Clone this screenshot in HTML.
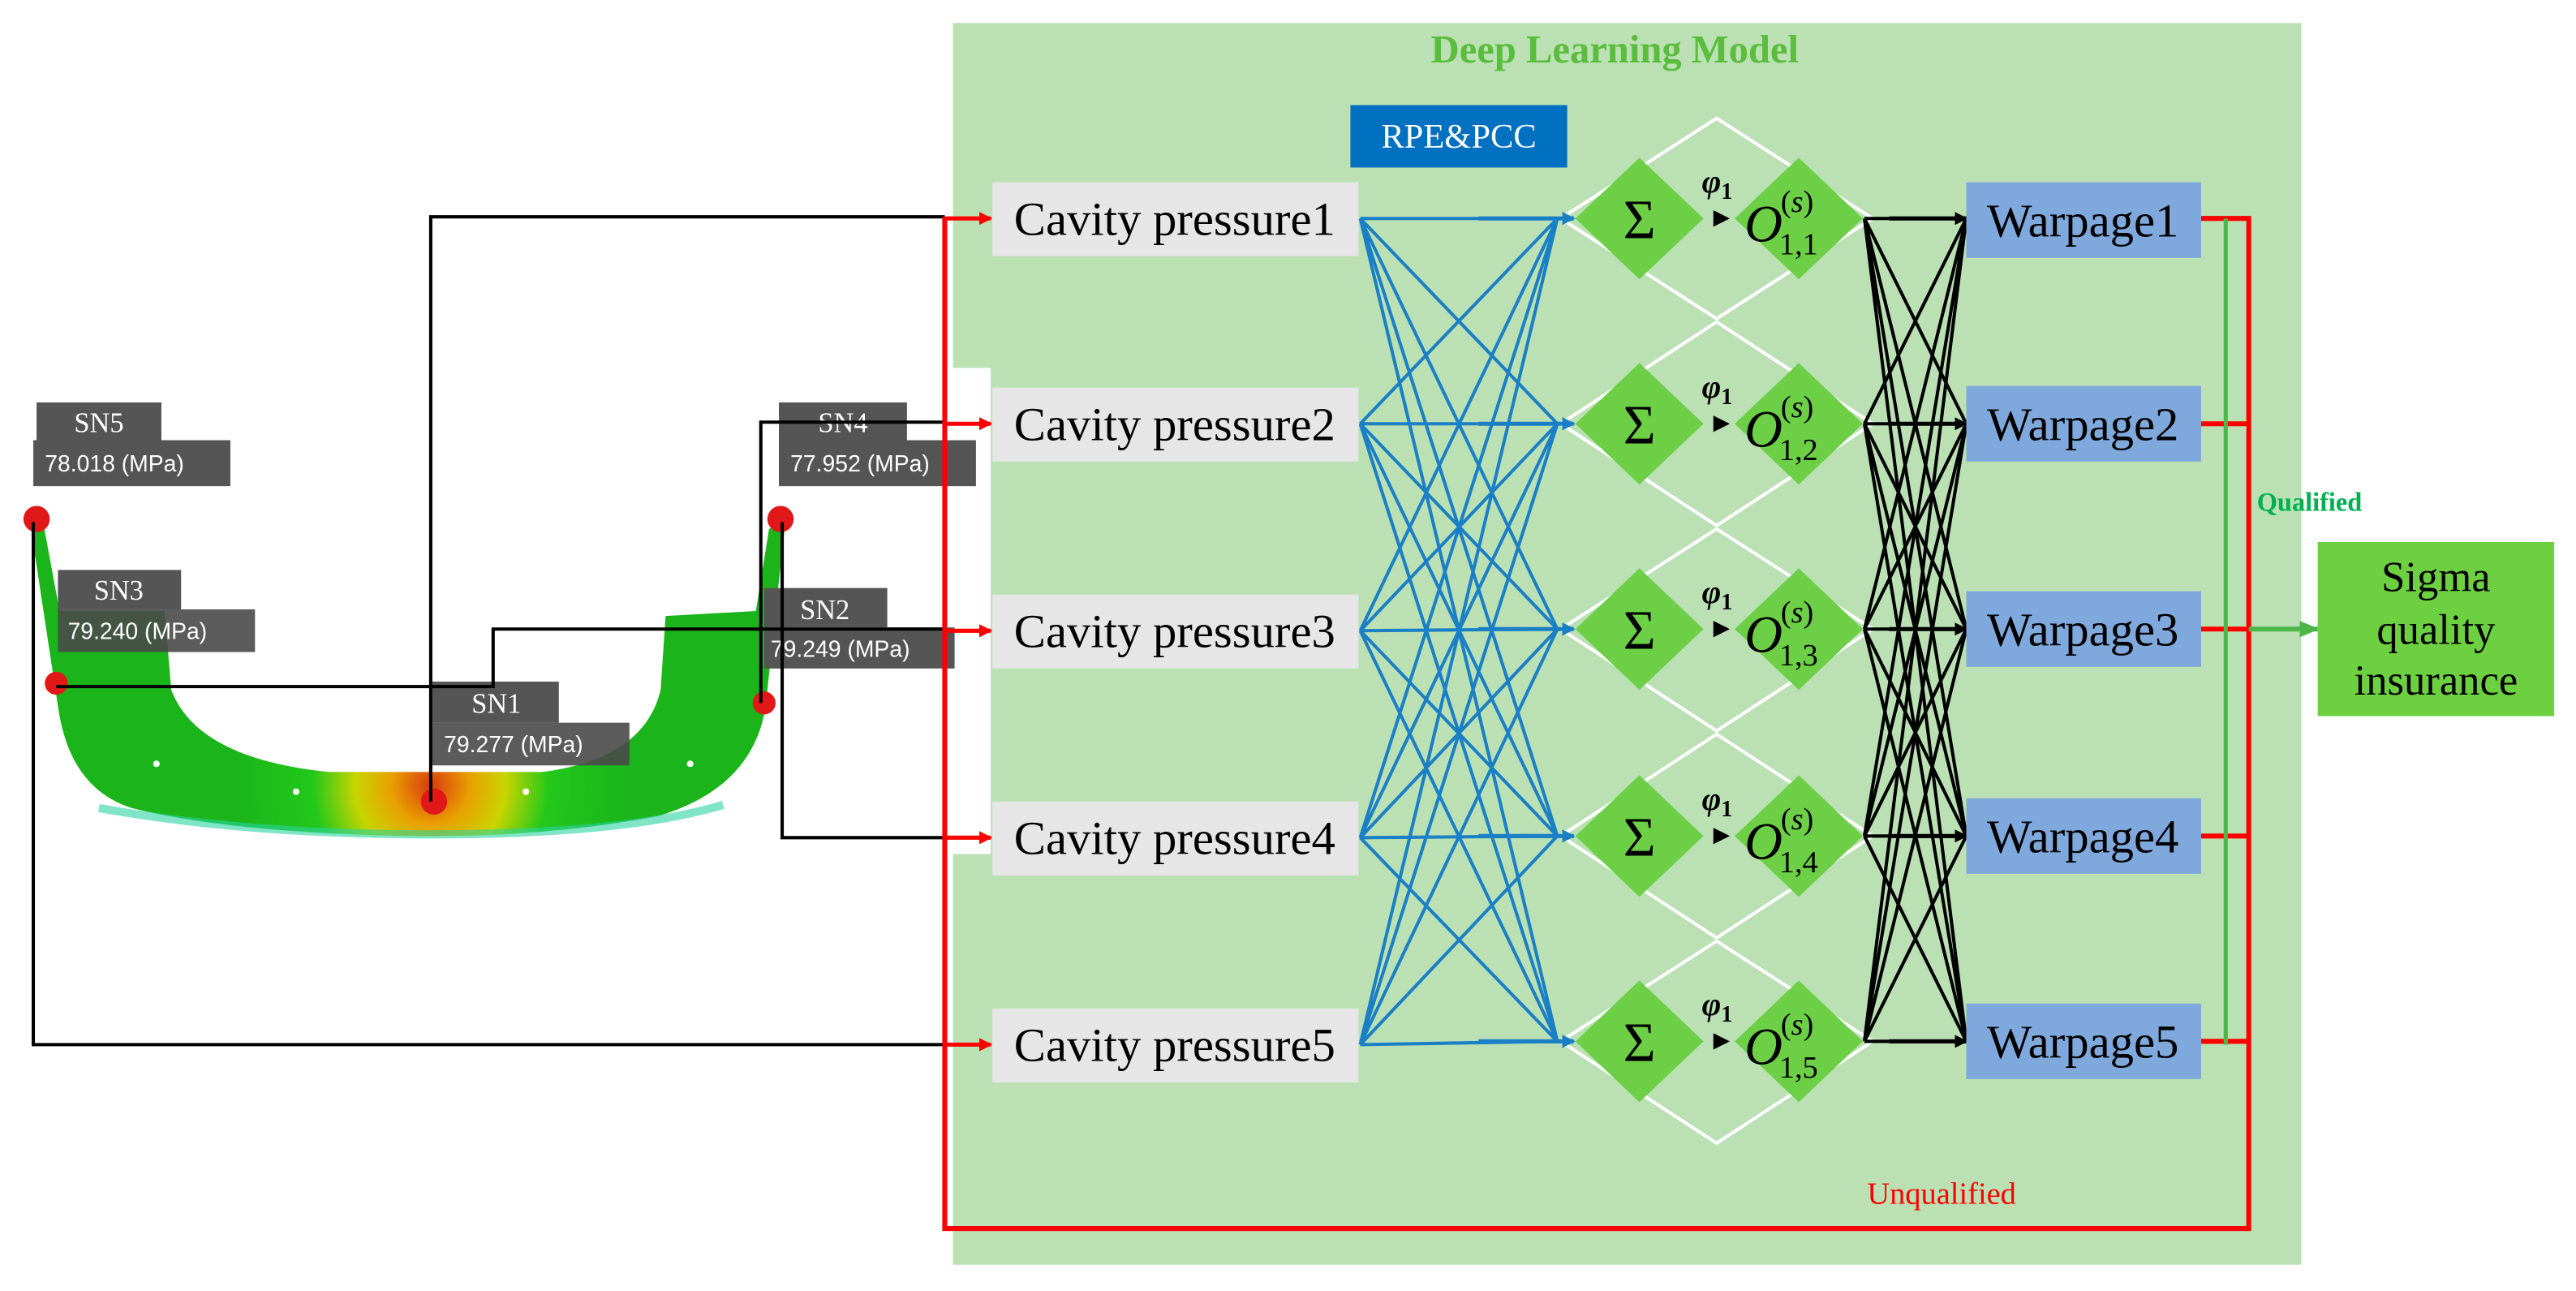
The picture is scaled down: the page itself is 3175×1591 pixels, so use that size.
<!DOCTYPE html>
<html><head><meta charset="utf-8"><style>
html,body{margin:0;padding:0;background:#fff;}
svg{display:block;}
</style></head><body>
<svg width="3175" height="1591" viewBox="0 0 1568 786" xmlns="http://www.w3.org/2000/svg">
<defs>
<radialGradient id="hot" cx="262" cy="478" r="120" gradientUnits="userSpaceOnUse">
<stop offset="0" stop-color="#d83a10"/><stop offset="0.2" stop-color="#e8a000"/><stop offset="0.38" stop-color="#c8d400"/><stop offset="0.6" stop-color="#22c81a"/><stop offset="1" stop-color="#1bb51b"/>
</radialGradient>
<marker id="ar" markerWidth="8" markerHeight="8" refX="7" refY="4" orient="auto" markerUnits="userSpaceOnUse"><path d="M0,0 L8,4 L0,8z" fill="#ff0000"/></marker>
<marker id="ab" markerWidth="8" markerHeight="8" refX="7" refY="4" orient="auto" markerUnits="userSpaceOnUse"><path d="M0,0 L8,4 L0,8z" fill="#1a7fc4"/></marker>
<marker id="ak" markerWidth="8" markerHeight="8" refX="7" refY="4" orient="auto" markerUnits="userSpaceOnUse"><path d="M0,0 L8,4 L0,8z" fill="#000"/></marker>
<marker id="ag" markerWidth="12" markerHeight="10" refX="11" refY="5" orient="auto" markerUnits="userSpaceOnUse"><path d="M0,0 L12,5 L0,10z" fill="#4cb648"/></marker>
</defs>

<rect x="580" y="14" width="821" height="756" fill="#bae0b4"/>
<rect x="578" y="224" width="25" height="296" fill="#fff"/>
<text x="983" y="38" font-family="Liberation Serif,serif" font-weight="bold" font-size="24" fill="#5bbd3c" text-anchor="middle">Deep Learning Model</text>

<rect x="822" y="64" width="132" height="38" fill="#0070c0"/>
<text x="888" y="90" font-family="Liberation Serif,serif" font-size="21" fill="#fff" text-anchor="middle">RPE&amp;PCC</text>

<!-- bumper -->
<path d="M18,318 L26,318 L36,372 L100,372 L104,420 Q120,462 200,470 L330,470 Q392,462 402,420 L405,375 L460,372 L468,322 L478,318 L472,372 L466,430 Q458,480 400,497 Q330,510 250,509 Q140,507 80,492 Q42,480 35,430 Z" fill="url(#hot)"/>
<path d="M60,492 Q150,508 262,508 Q380,508 440,490" stroke="#2ad4a0" stroke-width="5" fill="none" opacity="0.6"/>
<g fill="#fff"><circle cx="95" cy="465" r="2"/><circle cx="180" cy="482" r="2"/><circle cx="320" cy="482" r="2"/><circle cx="420" cy="465" r="2"/></g>
<g fill="#e01818"><circle cx="22" cy="316" r="8"/><circle cx="475" cy="316" r="8"/><circle cx="34" cy="416" r="7"/><circle cx="465" cy="428" r="7"/><circle cx="264" cy="488" r="8"/></g>

<g font-family="Liberation Serif,serif" font-size="17" fill="#fff">
<rect x="22" y="245" width="76" height="24" fill="#555"/><text x="60" y="263" text-anchor="middle">SN5</text>
<rect x="35" y="347" width="75" height="24" fill="#555"/><text x="72" y="365" text-anchor="middle">SN3</text>
<rect x="263" y="415" width="77" height="25" fill="#555"/><text x="302" y="434" text-anchor="middle">SN1</text>
<rect x="474" y="245" width="78" height="24" fill="#555"/><text x="513" y="263" text-anchor="middle">SN4</text>
<rect x="465" y="358" width="75" height="24" fill="#555"/><text x="502" y="377" text-anchor="middle">SN2</text>
</g>
<g font-family="Liberation Sans,sans-serif" font-size="14" fill="#fff">
<rect x="20" y="268" width="120" height="28" fill="#555"/><text x="27" y="287">78.018 (MPa)</text>
<rect x="35" y="371" width="120" height="26" fill="#4a4a4a" opacity="0.9"/><text x="41" y="389">79.240 (MPa)</text>
<rect x="263" y="440" width="120" height="26" fill="#4a4a4a" opacity="0.9"/><text x="270" y="458">79.277 (MPa)</text>
<rect x="474" y="268" width="120" height="28" fill="#555"/><text x="481" y="287">77.952 (MPa)</text>
<rect x="465" y="382" width="116" height="25" fill="#555"/><text x="469" y="400">79.249 (MPa)</text>
</g>

<g stroke="#000" stroke-width="2" fill="none">
<polyline points="262,488 262,132 575,132"/>
<polyline points="463,428 463,257 575,257"/>
<polyline points="34,418 300,418 300,383 575,383"/>
<polyline points="476,318 476,510 575,510"/>
<polyline points="20,318 20,636 575,636"/>
</g>

<g stroke="#ff0000" stroke-width="3" fill="none">
<polyline points="1340,133 1369,133 1369,748 575,748 575,132"/>
<line x1="1340" y1="258" x2="1369" y2="258"/>
<line x1="1340" y1="383" x2="1369" y2="383"/>
<line x1="1340" y1="509" x2="1369" y2="509"/>
<line x1="1340" y1="634" x2="1369" y2="634"/>
</g>
<g stroke="#ff0000" stroke-width="2.5">
<line x1="575" y1="133" x2="603" y2="133" marker-end="url(#ar)"/>
<line x1="575" y1="258" x2="603" y2="258" marker-end="url(#ar)"/>
<line x1="575" y1="384" x2="603" y2="384" marker-end="url(#ar)"/>
<line x1="575" y1="510" x2="603" y2="510" marker-end="url(#ar)"/>
<line x1="575" y1="636" x2="603" y2="636" marker-end="url(#ar)"/>
</g>

<line x1="1355" y1="133" x2="1355" y2="636" stroke="#4cb648" stroke-width="2.5"/>
<line x1="1369" y1="383" x2="1411" y2="383" stroke="#4cb648" stroke-width="3" marker-end="url(#ag)"/>
<text x="1374" y="311" font-family="Liberation Serif,serif" font-weight="bold" font-size="16" fill="#00b050">Qualified</text>
<text x="1182" y="733" font-family="Liberation Serif,serif" font-size="19" fill="#ff0000" text-anchor="middle">Unqualified</text>

<rect x="1411" y="330" width="144" height="106" fill="#6dd040"/>
<g font-family="Liberation Serif,serif" font-size="26" fill="#000" text-anchor="middle">
<text x="1483" y="360">Sigma</text><text x="1483" y="392">quality</text><text x="1483" y="423">insurance</text>
</g>

<g stroke="#fff" stroke-width="2" fill="none">
<path d="M1045,72 L1140,133 L1045,194 L950,133 Z"/>
<path d="M1045,196 L1140,258 L1045,320 L950,258 Z"/>
<path d="M1045,322 L1140,383 L1045,445 L950,383 Z"/>
<path d="M1045,447 L1140,509 L1045,571 L950,509 Z"/>
<path d="M1045,573 L1140,634 L1045,696 L950,634 Z"/>
</g>

<g stroke="#1a7fc4" stroke-width="2" fill="none">
<path d="M828,133L948,133M828,133L948,258M828,133L948,383M828,133L948,509M828,133L948,634
M828,258L948,133M828,258L948,258M828,258L948,383M828,258L948,509M828,258L948,634
M828,384L948,133M828,384L948,258M828,384L948,383M828,384L948,509M828,384L948,634
M828,510L948,133M828,510L948,258M828,510L948,383M828,510L948,509M828,510L948,634
M828,636L948,133M828,636L948,258M828,636L948,383M828,636L948,509M828,636L948,634"/>
</g>
<g stroke="#1a7fc4" stroke-width="2.5">
<line x1="900" y1="133" x2="958" y2="133" marker-end="url(#ab)"/>
<line x1="900" y1="258" x2="958" y2="258" marker-end="url(#ab)"/>
<line x1="900" y1="383" x2="958" y2="383" marker-end="url(#ab)"/>
<line x1="900" y1="509" x2="958" y2="509" marker-end="url(#ab)"/>
<line x1="900" y1="634" x2="958" y2="634" marker-end="url(#ab)"/>
</g>

<g stroke="#000" stroke-width="2" fill="none">
<path d="M1135,133L1197,133M1135,133L1197,258M1135,133L1197,383M1135,133L1197,509M1135,133L1197,634
M1135,258L1197,133M1135,258L1197,258M1135,258L1197,383M1135,258L1197,509M1135,258L1197,634
M1135,383L1197,133M1135,383L1197,258M1135,383L1197,383M1135,383L1197,509M1135,383L1197,634
M1135,509L1197,133M1135,509L1197,258M1135,509L1197,383M1135,509L1197,509M1135,509L1197,634
M1135,634L1197,133M1135,634L1197,258M1135,634L1197,383M1135,634L1197,509M1135,634L1197,634"/>
</g>
<g stroke="#000" stroke-width="2.5">
<line x1="1150" y1="133" x2="1197" y2="133" marker-end="url(#ak)"/>
<line x1="1150" y1="258" x2="1197" y2="258" marker-end="url(#ak)"/>
<line x1="1150" y1="383" x2="1197" y2="383" marker-end="url(#ak)"/>
<line x1="1150" y1="509" x2="1197" y2="509" marker-end="url(#ak)"/>
<line x1="1150" y1="634" x2="1197" y2="634" marker-end="url(#ak)"/>
</g>

<g font-family="Liberation Serif,serif" fill="#000">
<g transform="translate(0,133)">
<path d="M998,-37 L1037,0 L998,37 L959,0Z" fill="#6ccf45"/><path d="M1095,-37 L1134,0 L1095,37 L1056,0Z" fill="#6ccf45"/>
<text x="998" y="12" font-size="34" text-anchor="middle">Σ</text>
<path d="M1043,-5 L1053,0 L1043,5Z" fill="#000"/>
<text x="1036" y="-16" font-size="20" font-style="italic" font-weight="bold">φ<tspan font-size="14" dy="4" font-style="normal">1</tspan></text>
<text x="1062" y="14" font-size="32" font-style="italic">O</text>
<text x="1084" y="-4" font-size="19">(<tspan font-style="italic">s</tspan>)</text>
<text x="1083" y="22" font-size="19">1,1</text>
</g>
<g transform="translate(0,258)">
<path d="M998,-37 L1037,0 L998,37 L959,0Z" fill="#6ccf45"/><path d="M1095,-37 L1134,0 L1095,37 L1056,0Z" fill="#6ccf45"/>
<text x="998" y="12" font-size="34" text-anchor="middle">Σ</text>
<path d="M1043,-5 L1053,0 L1043,5Z" fill="#000"/>
<text x="1036" y="-16" font-size="20" font-style="italic" font-weight="bold">φ<tspan font-size="14" dy="4" font-style="normal">1</tspan></text>
<text x="1062" y="14" font-size="32" font-style="italic">O</text>
<text x="1084" y="-4" font-size="19">(<tspan font-style="italic">s</tspan>)</text>
<text x="1083" y="22" font-size="19">1,2</text>
</g>
<g transform="translate(0,383)">
<path d="M998,-37 L1037,0 L998,37 L959,0Z" fill="#6ccf45"/><path d="M1095,-37 L1134,0 L1095,37 L1056,0Z" fill="#6ccf45"/>
<text x="998" y="12" font-size="34" text-anchor="middle">Σ</text>
<path d="M1043,-5 L1053,0 L1043,5Z" fill="#000"/>
<text x="1036" y="-16" font-size="20" font-style="italic" font-weight="bold">φ<tspan font-size="14" dy="4" font-style="normal">1</tspan></text>
<text x="1062" y="14" font-size="32" font-style="italic">O</text>
<text x="1084" y="-4" font-size="19">(<tspan font-style="italic">s</tspan>)</text>
<text x="1083" y="22" font-size="19">1,3</text>
</g>
<g transform="translate(0,509)">
<path d="M998,-37 L1037,0 L998,37 L959,0Z" fill="#6ccf45"/><path d="M1095,-37 L1134,0 L1095,37 L1056,0Z" fill="#6ccf45"/>
<text x="998" y="12" font-size="34" text-anchor="middle">Σ</text>
<path d="M1043,-5 L1053,0 L1043,5Z" fill="#000"/>
<text x="1036" y="-16" font-size="20" font-style="italic" font-weight="bold">φ<tspan font-size="14" dy="4" font-style="normal">1</tspan></text>
<text x="1062" y="14" font-size="32" font-style="italic">O</text>
<text x="1084" y="-4" font-size="19">(<tspan font-style="italic">s</tspan>)</text>
<text x="1083" y="22" font-size="19">1,4</text>
</g>
<g transform="translate(0,634)">
<path d="M998,-37 L1037,0 L998,37 L959,0Z" fill="#6ccf45"/><path d="M1095,-37 L1134,0 L1095,37 L1056,0Z" fill="#6ccf45"/>
<text x="998" y="12" font-size="34" text-anchor="middle">Σ</text>
<path d="M1043,-5 L1053,0 L1043,5Z" fill="#000"/>
<text x="1036" y="-16" font-size="20" font-style="italic" font-weight="bold">φ<tspan font-size="14" dy="4" font-style="normal">1</tspan></text>
<text x="1062" y="14" font-size="32" font-style="italic">O</text>
<text x="1084" y="-4" font-size="19">(<tspan font-style="italic">s</tspan>)</text>
<text x="1083" y="22" font-size="19">1,5</text>
</g>
</g>

<g font-family="Liberation Serif,serif" font-size="29" fill="#000" text-anchor="middle">
<rect x="604" y="111" width="223" height="45" fill="#e6e6e6"/><text x="715" y="143">Cavity pressure1</text>
<rect x="604" y="236" width="223" height="45" fill="#e6e6e6"/><text x="715" y="268">Cavity pressure2</text>
<rect x="604" y="362" width="223" height="45" fill="#e6e6e6"/><text x="715" y="394">Cavity pressure3</text>
<rect x="604" y="488" width="223" height="45" fill="#e6e6e6"/><text x="715" y="520">Cavity pressure4</text>
<rect x="604" y="614" width="223" height="45" fill="#e6e6e6"/><text x="715" y="646">Cavity pressure5</text>
</g>

<g font-family="Liberation Serif,serif" font-size="29" fill="#000" text-anchor="middle">
<rect x="1197" y="111" width="143" height="46" fill="#7fa8dc"/><text x="1268" y="144">Warpage1</text>
<rect x="1197" y="235" width="143" height="46" fill="#7fa8dc"/><text x="1268" y="268">Warpage2</text>
<rect x="1197" y="360" width="143" height="46" fill="#7fa8dc"/><text x="1268" y="393">Warpage3</text>
<rect x="1197" y="486" width="143" height="46" fill="#7fa8dc"/><text x="1268" y="519">Warpage4</text>
<rect x="1197" y="611" width="143" height="46" fill="#7fa8dc"/><text x="1268" y="644">Warpage5</text>
</g>
</svg>
</body></html>
